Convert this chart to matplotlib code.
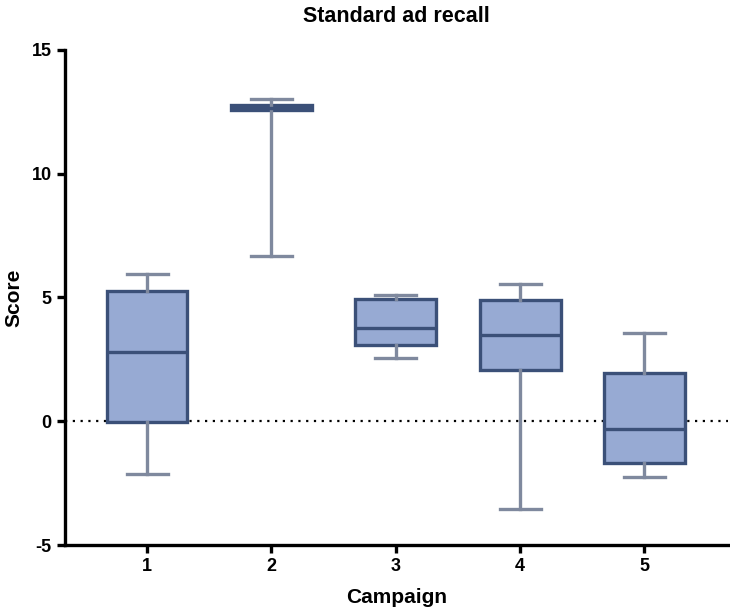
import matplotlib
matplotlib.use("Agg")
import matplotlib.pyplot as plt

plt.rcParams['font.family'] = ['Liberation Sans', 'DejaVu Sans']
plt.rcParams['axes.unicode_minus'] = False

# values
campaigns = ["1", "2", "3", "4", "5"]
whisker_low = [-2.14, 6.67, 2.57, -3.53, -2.25]
q1 = [-0.05, 12.56, 3.07, 2.09, -1.68]
median = [2.78, 12.66, 3.77, 3.47, -0.32]
q3 = [5.27, 12.76, 4.93, 4.89, 1.93]
whisker_high = [5.96, 13.03, 5.09, 5.56, 3.57]

face = "#97aad3"
edge = "#3b5078"
whisk = "#7f899e"

stats = []
for i in range(len(campaigns)):
    stats.append({
        "label": campaigns[i],
        "whislo": whisker_low[i],
        "q1": q1[i],
        "med": median[i],
        "q3": q3[i],
        "whishi": whisker_high[i],
        "fliers": [],
    })

fig = plt.figure(figsize=(7.3, 6.15), dpi=100)
ax = fig.add_axes([0.089, 0.1138, 0.908, 0.805])

ax.axhline(0, color="black", linestyle=(0, (1, 2.5)), linewidth=1.6, zorder=1)

ax.bxp(stats, positions=range(1, len(campaigns) + 1), widths=0.65,
       patch_artist=True, showfliers=False,
       boxprops=dict(facecolor=face, edgecolor=edge, linewidth=2.4),
       medianprops=dict(color=edge, linewidth=2.4),
       whiskerprops=dict(color=whisk, linewidth=2.4),
       capprops=dict(color=whisk, linewidth=2.4),
       capwidths=0.33, zorder=2)

ax.set_xlim(0.34, 5.67)
ax.set_ylim(-5, 15)
ax.set_yticks([-5, 0, 5, 10, 15])
ax.set_xticks(range(1, len(campaigns) + 1))
ax.set_xticklabels(campaigns)

for s in ["top", "right"]:
    ax.spines[s].set_visible(False)
for s in ["left", "bottom"]:
    ax.spines[s].set_linewidth(2.4)
ax.tick_params(width=2.4, length=6, labelsize=13, direction="out")
for lbl in ax.get_xticklabels() + ax.get_yticklabels():
    lbl.set_fontweight("bold")

ax.set_xlabel("Campaign", fontsize=15, fontweight="bold", labelpad=9)
ax.set_ylabel("Score", fontsize=15, fontweight="bold", labelpad=6)
ax.set_title("Standard ad recall", fontsize=15.5, fontweight="bold", pad=20)

fig.savefig("out.png", dpi=100)
